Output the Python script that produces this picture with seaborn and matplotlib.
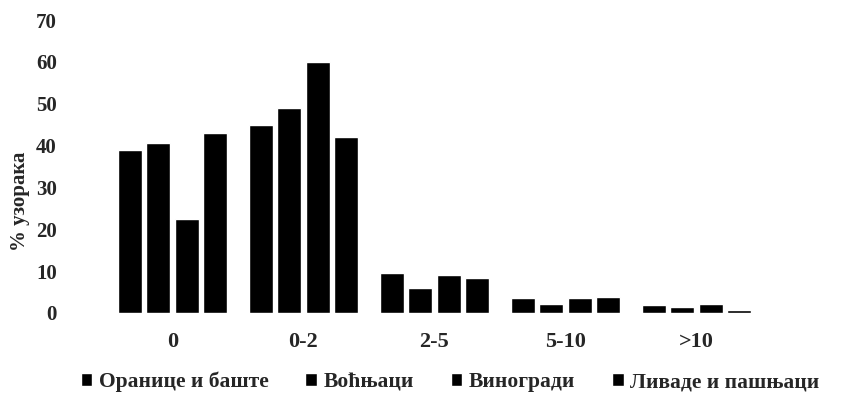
import matplotlib
matplotlib.use("Agg")
import matplotlib.pyplot as plt
import seaborn as sns
import pandas as pd

categories = ["0", "0-2", "2-5", "5-10", ">10"]
series_names = ["Оранице и баште", "Воћњаци", "Виногради", "Ливаде и пашњаци"]
# values per category (order of series as above)
cat0 = [39, 40.5, 22.5, 43]
cat02 = [45, 49, 60, 42]
cat25 = [9.5, 6, 9, 8.3]
cat510 = [3.6, 2.1, 3.6, 3.8]
cat10 = [2.0, 1.4, 2.2, 0.8]
yticks = [0, 10, 20, 30, 40, 50, 60, 70]

rows = []
for cat, vals in zip(categories, [cat0, cat02, cat25, cat510, cat10]):
    for s, v in zip(series_names, vals):
        rows.append({"cat": cat, "series": s, "value": v})
df = pd.DataFrame(rows)

sns.set_style("white")
plt.rcParams["font.family"] = ["Liberation Serif", "DejaVu Serif"]
plt.rcParams["font.weight"] = "bold"

fig = plt.figure(figsize=(8.45, 4.12), dpi=100)
ax = fig.add_axes([107/845, (412-313)/412, 655/845, 293/412])
sns.barplot(data=df, x="cat", y="value", hue="series", order=categories,
            hue_order=series_names, palette=["black"]*4, width=0.87, gap=0.15,
            ax=ax, legend=True)
ax.set_ylim(0, 70)
ax.set_yticks(yticks)
ax.set_yticklabels([str(t) for t in yticks], fontsize=15, fontweight="bold")
ax.set_xticklabels(categories, fontsize=16, fontweight="bold")
ax.tick_params(axis="y", length=0, pad=36)
ax.tick_params(axis="x", length=0, pad=14)
ax.set_xlabel("")
ax.set_ylabel("% узорака", fontsize=15, fontweight="bold")
ax.yaxis.set_label_coords(-0.118, 0.38)
for sp in ax.spines.values():
    sp.set_visible(False)

handles, labels = ax.get_legend_handles_labels()
ax.legend(handles, labels, loc="center", bbox_to_anchor=(450/845, 1 - 382/412),
          bbox_transform=fig.transFigure, ncol=4, frameon=False,
          handlelength=0.55, handleheight=0.55, handletextpad=0.3,
          columnspacing=1.7, prop={"size": 15.5, "weight": "bold"})

fig.savefig("out.png", dpi=100)
